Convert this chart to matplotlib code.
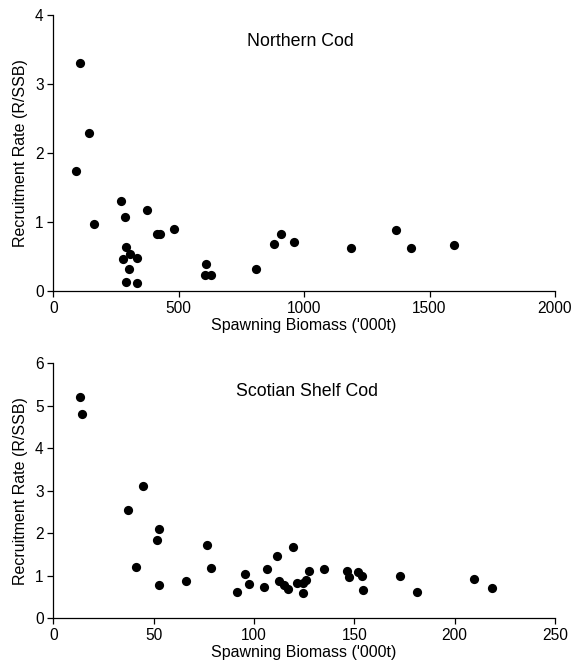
import matplotlib
matplotlib.use("Agg")
import matplotlib.pyplot as plt

plt.rcParams['font.family'] = ['Liberation Sans', 'DejaVu Sans']

# Northern Cod data
north_ssb = [106, 141, 92, 161, 271, 286, 374, 412, 427, 480, 291, 277, 305, 335, 301, 291, 332,
             608, 604, 629, 810, 880, 907, 961, 1186, 1366, 1426, 1598]
north_rate = [3.31, 2.29, 1.74, 0.975, 1.31, 1.07, 1.18, 0.83, 0.82, 0.895, 0.64, 0.47, 0.53, 0.48, 0.32, 0.13, 0.11,
              0.39, 0.23, 0.23, 0.32, 0.685, 0.826, 0.715, 0.63, 0.89, 0.62, 0.66]

# Scotian Shelf Cod data
scot_ssb = [13.3, 14.2, 44.8, 37.3, 52.8, 51.7, 41.2, 52.5, 66, 76.8, 78.5,
            91.7, 95.3, 97.7, 105, 106.7, 111.7, 119.5, 112.7, 115, 117.2, 121.3, 124.2, 125.8, 124.5, 127.2,
            135, 146.3, 147.5, 152, 154, 154.5, 172.7, 181.3, 209.9, 218.7]
scot_rate = [5.21, 4.81, 3.12, 2.55, 2.10, 1.83, 1.21, 0.77, 0.88, 1.73, 1.18,
             0.61, 1.03, 0.79, 0.73, 1.16, 1.45, 1.68, 0.86, 0.77, 0.68, 0.82, 0.82, 0.90, 0.58, 1.10,
             1.16, 1.11, 0.97, 1.08, 0.99, 0.66, 1.00, 0.61, 0.93, 0.71]

fig = plt.figure(figsize=(5.86, 6.63), dpi=100)
ax1 = fig.add_axes([0.091, 0.5611, 0.856, 0.4163])
ax2 = fig.add_axes([0.091, 0.0679, 0.856, 0.3841])


def style_axis(ax):
    for s in ['top', 'right']:
        ax.spines[s].set_visible(False)
    for s in ['left', 'bottom']:
        ax.spines[s].set_linewidth(0.9)
    ax.tick_params(direction='out', length=4, width=0.9, labelsize=11.2, pad=3)
    ax.set_xlabel("Spawning Biomass ('000t)", fontsize=11.5, labelpad=2)
    ax.set_ylabel("Recruitment Rate (R/SSB)", fontsize=11.5, labelpad=5)


# top panel
ax1.scatter(north_ssb, north_rate, s=44, color='black', linewidths=0, clip_on=False)
ax1.set_xlim(0, 2000)
ax1.set_ylim(0, 4)
ax1.set_xticks([0, 500, 1000, 1500, 2000])
ax1.set_yticks([0, 1, 2, 3, 4])
style_axis(ax1)
ax1.text(986, 3.61, "Northern Cod", fontsize=12.8, ha='center', va='center')

# bottom panel
ax2.scatter(scot_ssb, scot_rate, s=44, color='black', linewidths=0, clip_on=False)
ax2.set_xlim(0, 250)
ax2.set_ylim(0, 6)
ax2.set_xticks([0, 50, 100, 150, 200, 250])
ax2.set_yticks([0, 1, 2, 3, 4, 5, 6])
style_axis(ax2)
ax2.text(126.4, 5.33, "Scotian Shelf Cod", fontsize=12.8, ha='center', va='center')

fig.savefig("out.png", dpi=100)
